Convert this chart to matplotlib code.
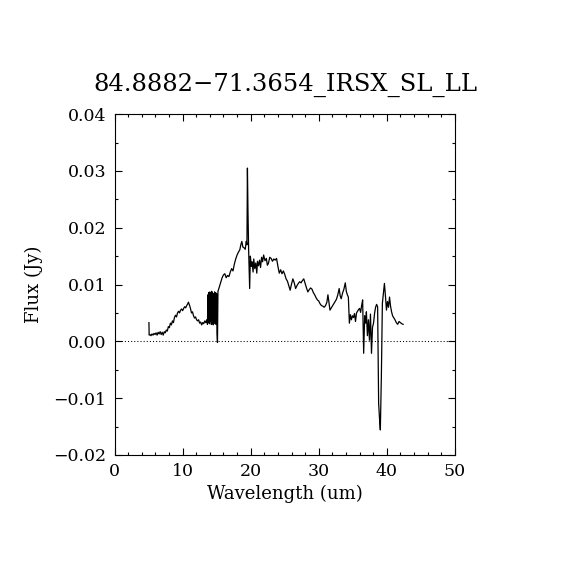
import matplotlib
matplotlib.use("Agg")
import matplotlib.pyplot as plt
from matplotlib.ticker import MultipleLocator

title = "84.8882\u221271.3654_IRSX_SL_LL"
xlabel = "Wavelength (um)"
ylabel = "Flux (Jy)"

wavelength = [
    5.05, 5.08, 5.2, 5.35, 5.5, 5.65, 5.8, 5.95, 6.1, 6.25, 6.4, 6.55, 6.7, 6.85,
    7.0, 7.15, 7.3, 7.45, 7.6, 7.75, 7.9, 8.05, 8.2, 8.35, 8.5, 8.65, 8.8, 8.95,
    9.1, 9.25, 9.4, 9.55, 9.7, 9.85, 10.0, 10.15, 10.3, 10.45, 10.6, 10.75, 10.85,
    11.0, 11.15, 11.3, 11.45, 11.6, 11.75, 11.9, 12.05, 12.2, 12.35, 12.5, 12.65,
    12.8, 12.95, 13.1, 13.25, 13.4, 13.55,
    13.65, 13.72, 13.79, 13.86, 13.93, 14.0, 14.07, 14.14, 14.21, 14.28, 14.35,
    14.42, 14.49, 14.56, 14.63, 14.70, 14.77, 14.84, 14.91, 14.98, 15.05, 15.12,
    15.19, 15.3, 15.45, 15.6, 15.8, 16.0, 16.2, 16.4, 16.6, 16.8, 17.0, 17.2,
    17.4, 17.6, 17.8, 18.0, 18.2, 18.4, 18.55, 18.7, 18.85, 19.0, 19.2, 19.35,
    19.45, 19.52, 19.6, 19.7, 19.85, 19.95, 20.1, 20.2, 20.35, 20.45, 20.6, 20.75,
    20.9, 21.0, 21.15, 21.3, 21.45, 21.6, 21.75, 21.9, 22.1, 22.3, 22.45, 22.6,
    22.8, 23.0, 23.2, 23.4, 23.6, 23.8, 24.0, 24.2, 24.4, 24.6, 24.8, 25.0, 25.2,
    25.4, 25.6, 25.8, 26.0, 26.2, 26.4, 26.6, 26.8, 27.0, 27.2, 27.4, 27.6, 27.8,
    28.0, 28.2, 28.4, 28.6, 28.8, 29.0, 29.2, 29.4, 29.6, 29.8, 30.0, 30.2, 30.4,
    30.6, 30.8, 31.0, 31.2, 31.35, 31.5, 31.65, 31.8, 32.0, 32.2, 32.4, 32.6, 32.8,
    33.0, 33.15, 33.3, 33.5, 33.7, 33.9, 34.05, 34.2, 34.35, 34.5, 34.65, 34.8,
    34.95, 35.1, 35.25, 35.4, 35.55, 35.7, 35.85, 36.0, 36.15, 36.3, 36.45, 36.6,
    36.75, 36.9, 37.0, 37.15, 37.3, 37.45, 37.6, 37.75, 37.9, 38.05, 38.2, 38.35,
    38.5, 38.65, 38.8, 38.95, 39.05, 39.2, 39.35, 39.5, 39.65, 39.8, 39.95, 40.1,
    40.25, 40.4, 40.55, 40.7, 40.85, 41.0, 41.2, 41.4, 41.6, 41.8, 42.0, 42.2, 42.4,
]

flux = [
    0.0033, 0.0011, 0.0012, 0.0010, 0.0013, 0.0011, 0.0014, 0.0012, 0.0015, 0.0011,
    0.0016, 0.0013, 0.0017, 0.0012, 0.0016, 0.0011, 0.0017, 0.0015, 0.0020, 0.0018,
    0.0026, 0.0024, 0.0032, 0.0029, 0.0036, 0.0033, 0.0042, 0.0046, 0.0043, 0.0050,
    0.0053, 0.0050, 0.0055, 0.0057, 0.0054, 0.0058, 0.0061, 0.0059, 0.0063, 0.0066,
    0.0069, 0.0064, 0.0058, 0.0050, 0.0052, 0.0045, 0.0041, 0.0043, 0.0038, 0.0036,
    0.0038, 0.0032, 0.0034, 0.0029, 0.0033, 0.0031, 0.0036, 0.0033, 0.0038,
    0.0030, 0.0082, 0.0034, 0.0086, 0.0031, 0.0087, 0.0036, 0.0084, 0.0030, 0.0088,
    0.0033, 0.0085, 0.0029, 0.0083, 0.0035, 0.0087, 0.0031, 0.0086, 0.0030, 0.0084,
    0.0015, -0.0002, 0.0088, 0.0092, 0.0098, 0.0104, 0.0112, 0.0117, 0.0119, 0.0112,
    0.0116, 0.0114, 0.0122, 0.0128, 0.0124, 0.0136, 0.0145, 0.0152, 0.0157, 0.0161,
    0.0170, 0.0176, 0.0166, 0.0165, 0.0162, 0.0176, 0.0170, 0.0305, 0.0231, 0.0160,
    0.0093, 0.0150, 0.0132, 0.0140, 0.0122, 0.0145, 0.0128, 0.0138, 0.0120, 0.0141,
    0.0133, 0.0143, 0.0130, 0.0148, 0.0140, 0.0152, 0.0142, 0.0146, 0.0134, 0.0137,
    0.0148, 0.0146, 0.0141, 0.0145, 0.0143, 0.0146, 0.0132, 0.0120, 0.0126, 0.0119,
    0.0124, 0.0118, 0.0110, 0.0106, 0.0098, 0.0090, 0.0101, 0.0110, 0.0103, 0.0093,
    0.0098, 0.0102, 0.0105, 0.0103, 0.0107, 0.0110, 0.0102, 0.0094, 0.0087, 0.0091,
    0.0094, 0.0092, 0.0086, 0.0082, 0.0077, 0.0073, 0.0071, 0.0066, 0.0063, 0.0062,
    0.0060, 0.0063, 0.0069, 0.0082, 0.0068, 0.0055, 0.0058, 0.0062, 0.0066, 0.0070,
    0.0074, 0.0082, 0.0093, 0.0080, 0.0075, 0.0085, 0.0092, 0.0103, 0.0088, 0.0082,
    0.0078, 0.0032, 0.0047, 0.0038, 0.0045, 0.0042, 0.0049, 0.0035, 0.0050, 0.0053,
    0.0056, 0.0058, 0.0051, 0.0063, 0.0073, -0.0021, 0.0045, 0.0032, 0.0052, 0.0010,
    0.0038, 0.0002, 0.0048, -0.0021, 0.0025, 0.0032, 0.0049, 0.0060, 0.0065, 0.0061,
    -0.0109, -0.0140, -0.0156, -0.0062, 0.0067, 0.0085, 0.0102, 0.0080, 0.0055,
    0.0070, 0.0060, 0.0078, 0.0062, 0.0052, 0.0045, 0.0042, 0.0038, 0.0033, 0.0030,
    0.0035, 0.0033, 0.0031, 0.0030,
]

x_range = [0, 50]
y_range = [-0.02, 0.04]

plt.rcParams['font.family'] = ['DejaVu Serif']
fig = plt.figure(figsize=(5.7, 5.7), dpi=100)
ax = fig.add_axes([0.201, 0.2018, 0.597, 0.598])

ax.plot(wavelength, flux, color='black', linewidth=0.9)
ax.plot(x_range, [0, 0], color='black', linestyle=(0, (1, 2)), linewidth=0.75)

ax.set_xlim(*x_range)
ax.set_ylim(*y_range)
ax.xaxis.set_major_locator(MultipleLocator(10))
ax.xaxis.set_minor_locator(MultipleLocator(2))
ax.yaxis.set_major_locator(MultipleLocator(0.01))
ax.yaxis.set_minor_locator(MultipleLocator(0.005))
ax.yaxis.set_major_formatter(plt.FuncFormatter(lambda v, p: f"{v:.2f}".replace("-", "\u2212")))
ax.tick_params(which='both', direction='in', top=True, right=True, width=0.8)
ax.tick_params(which='major', length=5, labelsize=12.5, pad=6)
ax.tick_params(which='minor', length=2.5)
for s in ax.spines.values():
    s.set_linewidth(0.8)

ax.set_xlabel(xlabel, fontsize=13, labelpad=3)
ax.set_ylabel(ylabel, fontsize=13, labelpad=7)
fig.text(0.5, 0.851, title, fontsize=17.5, ha='center', va='center')

fig.savefig("out.png", dpi=100)
